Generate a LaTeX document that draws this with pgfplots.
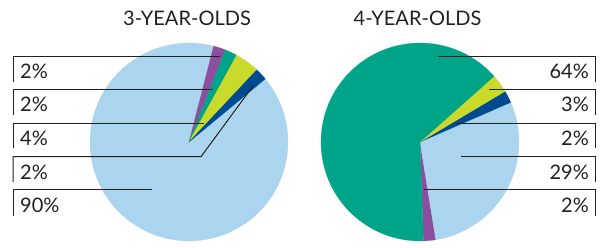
\documentclass[border=0pt]{standalone}
\usepackage{fontspec}
\setmainfont{Lato}
\usepackage{pgfplots}
\pgfplotsset{compat=1.18}
\definecolor{cLB}{HTML}{ABD5EF}
\definecolor{cPU}{HTML}{8C4F9F}
\definecolor{cTE}{HTML}{00A589}
\definecolor{cYE}{HTML}{C9DA2B}
\definecolor{cDB}{HTML}{004A91}
\definecolor{cTX}{HTML}{231F20}
\begin{document}
\begin{tikzpicture}
\begin{axis}[width=605pt, height=248pt, scale only axis, xmin=0, xmax=605, ymin=0, ymax=248,
  hide axis, clip=false]
\addplot[draw=none] coordinates {(0,0) (605,248)};
% ---- 3-year-olds: purple 2, teal 2, yellow 4, blue 2, light blue 90 (clockwise from 75.6 deg)
\addplot[fill=cLB, draw=cLB, line width=0.2pt, domain={75.6-3.6*(2+2+4+2+90)}:{75.6-3.6*(2+2+4+2)}, samples=120, variable=\t] ({189+99*cos(t)},{106+99*sin(t)}) -- (axis cs:189,106) -- cycle;
\addplot[fill=cPU, draw=cPU, line width=0.2pt, domain={75.6-3.6*(2)}:{75.6}, samples=10, variable=\t] ({189+99*cos(t)},{106+99*sin(t)}) -- (axis cs:189,106) -- cycle;
\addplot[fill=cTE, draw=cTE, line width=0.2pt, domain={75.6-3.6*(2+2)}:{75.6-3.6*(2)}, samples=10, variable=\t] ({189+99*cos(t)},{106+99*sin(t)}) -- (axis cs:189,106) -- cycle;
\addplot[fill=cYE, draw=cYE, line width=0.2pt, domain={75.6-3.6*(2+2+4)}:{75.6-3.6*(2+2)}, samples=10, variable=\t] ({189+99*cos(t)},{106+99*sin(t)}) -- (axis cs:189,106) -- cycle;
\addplot[fill=cDB, draw=cDB, line width=0.2pt, domain={75.6-3.6*(2+2+4+2)}:{75.6-3.6*(2+2+4)}, samples=10, variable=\t] ({189+99*cos(t)},{106+99*sin(t)}) -- (axis cs:189,106) -- cycle;
% ---- 4-year-olds: purple 2, light blue 29, blue 2, yellow 3, teal 64 (counter-clockwise from -88 deg)
\addplot[fill=cPU, draw=cPU, line width=0.2pt, domain={-88}:{-88+3.6*(2)}, samples=10, variable=\t] ({420+99*cos(t)},{106+99*sin(t)}) -- (axis cs:420,106) -- cycle;
\addplot[fill=cLB, draw=cLB, line width=0.2pt, domain={-88+3.6*(2)}:{-88+3.6*(2+29)}, samples=60, variable=\t] ({420+99*cos(t)},{106+99*sin(t)}) -- (axis cs:420,106) -- cycle;
\addplot[fill=cDB, draw=cDB, line width=0.2pt, domain={-88+3.6*(2+29)}:{-88+3.6*(2+29+2)}, samples=10, variable=\t] ({420+99*cos(t)},{106+99*sin(t)}) -- (axis cs:420,106) -- cycle;
\addplot[fill=cYE, draw=cYE, line width=0.2pt, domain={-88+3.6*(2+29+2)}:{-88+3.6*(2+29+2+3)}, samples=10, variable=\t] ({420+99*cos(t)},{106+99*sin(t)}) -- (axis cs:420,106) -- cycle;
\addplot[fill=cTE, draw=cTE, line width=0.2pt, domain={-88+3.6*(2+29+2+3)}:{-88+3.6*(2+29+2+3+64)}, samples=100, variable=\t] ({420+99*cos(t)},{106+99*sin(t)}) -- (axis cs:420,106) -- cycle;
% ---- leader lines, left
\addplot[cTX, line width=1pt] coordinates {(13,166) (13,191.3) (220,191.3)};
\addplot[cTX, line width=1pt] coordinates {(13,133) (13,158) (213,158)};
\addplot[cTX, line width=1pt] coordinates {(13,100) (13,124.7) (204,124.7)};
\addplot[cTX, line width=1pt] coordinates {(13,66) (13,91.3) (201,91.3) (253,162)};
\addplot[cTX, line width=1pt] coordinates {(13,32) (13,58) (152,58)};
% ---- leader lines, right
\addplot[cTX, line width=1pt] coordinates {(438,191.3) (595,191.3) (595,166)};
\addplot[cTX, line width=1pt] coordinates {(489,158) (595,158) (595,133)};
\addplot[cTX, line width=1pt] coordinates {(456,124.7) (595,124.7) (595,100)};
\addplot[cTX, line width=1pt] coordinates {(461,91.3) (595,91.3) (595,66)};
\addplot[cTX, line width=1pt] coordinates {(424,58) (595,58) (595,32)};
% ---- texts
\begin{scope}[every node/.style={inner sep=0pt, text=cTX, font=\fontsize{20}{21}\selectfont}]
\node[anchor=base] at (axis cs:187,222) {3-YEAR-OLDS};
\node[anchor=base] at (axis cs:417.5,222) {4-YEAR-OLDS};
\node[anchor=base west] at (axis cs:20,169) {2\%};
\node[anchor=base west] at (axis cs:20,136) {2\%};
\node[anchor=base west] at (axis cs:20,102) {4\%};
\node[anchor=base west] at (axis cs:20,68) {2\%};
\node[anchor=base west] at (axis cs:20,35) {90\%};
\node[anchor=base east] at (axis cs:589,169) {64\%};
\node[anchor=base east] at (axis cs:589,136) {3\%};
\node[anchor=base east] at (axis cs:589,102) {2\%};
\node[anchor=base east] at (axis cs:589,68) {29\%};
\node[anchor=base east] at (axis cs:589,35) {2\%};
\end{scope}
\end{axis}
\end{tikzpicture}
\end{document}
